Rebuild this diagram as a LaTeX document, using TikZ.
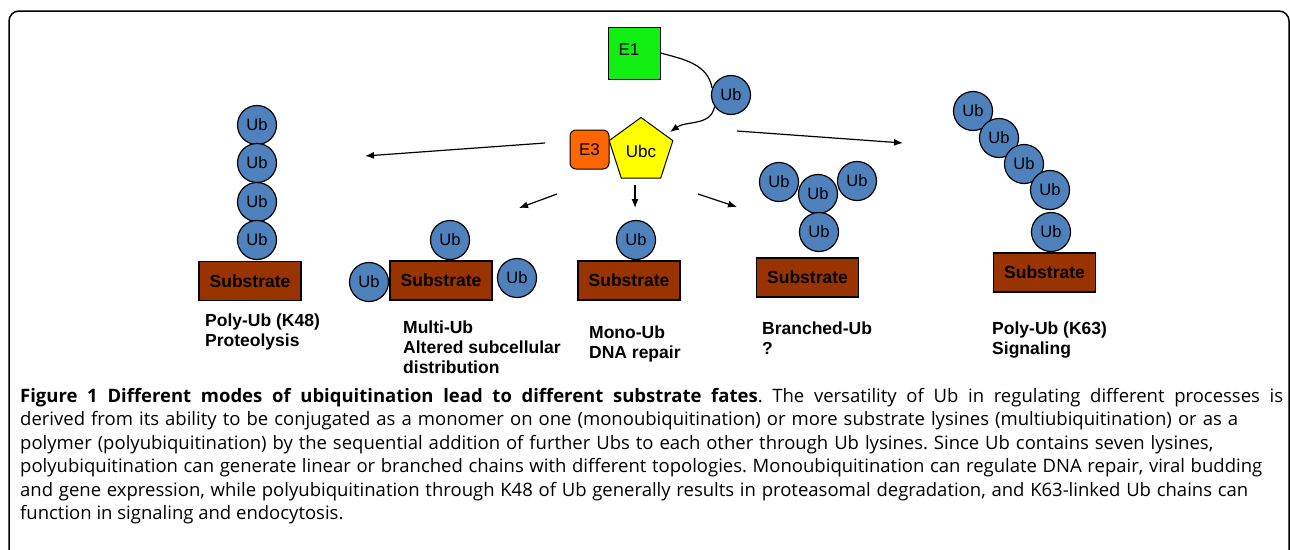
\documentclass[tikz,border=0pt]{standalone}
\usepackage{fontspec}
\setmainfont{Liberation Sans}
\newfontfamily\capfont{Open Sans}
\usetikzlibrary{shapes.geometric,arrows.meta}
\frenchspacing

\definecolor{ubblue}{RGB}{79,129,189}
\definecolor{subbrown}{RGB}{153,51,0}
\definecolor{eonegreen}{RGB}{17,238,17}
\definecolor{ethreeorange}{RGB}{255,102,0}
\definecolor{ubcyellow}{RGB}{255,255,0}

\begin{document}
\begin{tikzpicture}[x=1pt, y=1pt,
    ub/.style={circle, draw, line width=1.2pt, fill=ubblue, minimum size=39pt, inner sep=0pt, font=\fontsize{16.5}{16.5}\selectfont},
    substrate/.style={rectangle, draw, line width=1.2pt, fill=subbrown, minimum width=102pt, minimum height=39pt, inner sep=0pt, font=\fontsize{17.5}{17.5}\selectfont\bfseries},
    fate/.style={anchor=north west, inner sep=0pt, align=left, font=\fontsize{17.5}{20}\selectfont\bfseries},
    enzyme/.style={draw, line width=1pt, inner sep=0pt, font=\fontsize{17}{17}\selectfont},
    arrow/.style={-{Latex[length=9pt,width=7pt]}, line width=1.2pt}
]
    \useasboundingbox (0,0) rectangle (1290,-549);
    % frame
    \draw[line width=1.5pt, rounded corners=10pt] (9,-560) -- (9,-11) -- (1289,-11) -- (1289,-560);

    % enzymes
    \node[enzyme, fill=eonegreen, minimum size=52pt] (e1) at (634,-53) {\raisebox{6pt}{E1}\hspace*{10pt}};
    \node[ub] (ub0) at (731,-95) {Ub};
    \node[enzyme, regular polygon, regular polygon sides=5, fill=ubcyellow, minimum size=67pt] (ubc) at (641,-151) {Ubc};
    \node[enzyme, rounded corners=6pt, fill=ethreeorange, minimum width=39pt, minimum height=39pt] (e3) at (589.5,-149.5) {E3};
    \coordinate (ubctip) at (670,-132);

    \draw[line width=1.2pt] (e1.east) to[out=-15, in=100] (ub0.160);
    \draw[arrow] (ub0.215) to[out=-100, in=35] (ubctip);

    % arrows to the fates
    \coordinate (k48s) at (545,-143);
    \coordinate (k48e) at (365,-156);
    \coordinate (multis) at (557,-194);
    \coordinate (multie) at (519,-208);
    \coordinate (monos) at (635,-185);
    \coordinate (monoe) at (635,-208);
    \coordinate (brans) at (698,-194);
    \coordinate (brane) at (737,-207);
    \coordinate (k63s) at (737,-131);
    \coordinate (k63e) at (903,-143);
    \draw[arrow] (k48s) -- (k48e);
    \draw[arrow] (multis) -- (multie);
    \draw[arrow] (monos) -- (monoe);
    \draw[arrow] (brans) -- (brane);
    \draw[arrow] (k63s) -- (k63e);

    % Poly-Ub (K48)
    \node[substrate] (subP) at (250,-281) {Substrate};
    \node[ub] (ubP1) at (257,-125) {Ub};
    \node[ub] (ubP2) at (257,-163) {Ub};
    \node[ub] (ubP3) at (257,-202) {Ub};
    \node[ub] (ubP4) at (257,-240) {Ub};
    \node[fate] (fateP) at (205,-314) {Poly-Ub (K48)\\Proteolysis};

    % Multi-Ub
    \node[substrate] (subM) at (441,-280.5) {Substrate};
    \node[ub] (ubM1) at (450,-240) {Ub};
    \node[ub] (ubM2) at (369,-282) {Ub};
    \node[ub] (ubM3) at (517,-278) {Ub};
    \node[fate] (fateM) at (403,-321) {Multi-Ub\\Altered subcellular\\distribution};

    % Mono-Ub
    \node[substrate] (subO) at (629,-280.5) {Substrate};
    \node[ub] (ubO) at (636,-240) {Ub};
    \node[fate] (fateO) at (589,-326) {Mono-Ub\\DNA repair};

    % Branched-Ub
    \node[substrate] (subB) at (807.5,-277.5) {Substrate};
    \node[ub] (ubB1) at (779,-182) {Ub};
    \node[ub] (ubB2) at (857,-181) {Ub};
    \node[ub] (ubB3) at (818,-194) {Ub};
    \node[ub] (ubB4) at (819,-232) {Ub};
    \node[fate] (fateB) at (762,-322) {Branched-Ub\\?};

    % Poly-Ub (K63)
    \node[substrate] (subK) at (1044.5,-272.5) {Substrate};
    \node[ub] (ubK1) at (973,-111) {Ub};
    \node[ub] (ubK2) at (999,-138) {Ub};
    \node[ub] (ubK3) at (1024,-164) {Ub};
    \node[ub] (ubK4) at (1050,-190) {Ub};
    \node[ub] (ubK5) at (1051,-232) {Ub};
    \node[fate] (fateK) at (992,-322) {Poly-Ub (K63)\\Signaling};

    % caption
    \node[anchor=north west, inner sep=0pt, align=left, font=\capfont\fontsize{18.5}{23.5}\selectfont] (caption) at (20,-388) {%
      \makebox[1263pt][s]{{\bfseries Figure 1 Different modes of ubiquitination lead to different substrate fates}. The versatility of Ub in regulating different processes is}\\
      \makebox[1218pt][s]{derived from its ability to be conjugated as a monomer on one (monoubiquitination) or more substrate lysines (multiubiquitination) or as a}\\
      \makebox[1193pt][s]{polymer (polyubiquitination) by the sequential addition of further Ubs to each other through Ub lysines. Since Ub contains seven lysines,}\\
      \makebox[1242pt][s]{polyubiquitination can generate linear or branched chains with different topologies. Monoubiquitination can regulate DNA repair, viral budding}\\
      \makebox[1228pt][s]{and gene expression, while polyubiquitination through K48 of Ub generally results in proteasomal degradation, and K63-linked Ub chains can}\\
      function in signaling and endocytosis.};
\end{tikzpicture}
\end{document}
